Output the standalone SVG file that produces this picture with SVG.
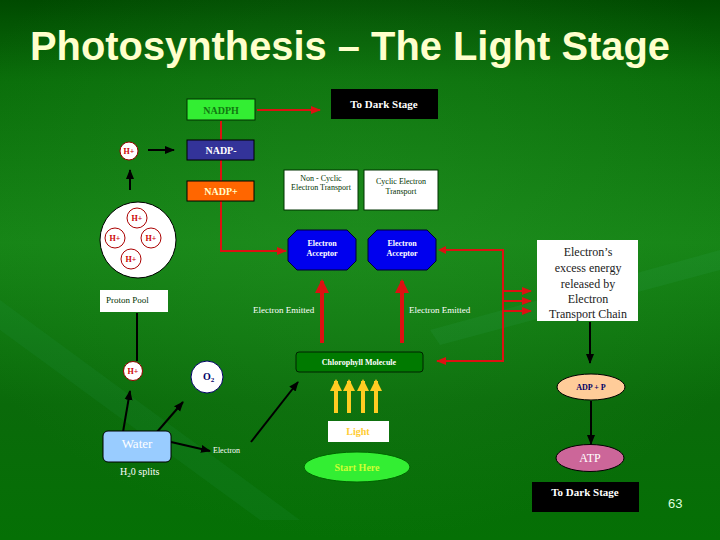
<svg xmlns="http://www.w3.org/2000/svg" width="720" height="540" viewBox="0 0 720 540">
<defs>
<linearGradient id="bg" x1="0" y1="0" x2="0" y2="1">
<stop offset="0" stop-color="#004a00"/>
<stop offset="0.15" stop-color="#0a6e0a"/>
<stop offset="0.45" stop-color="#168416"/>
<stop offset="0.75" stop-color="#0a6a0a"/>
<stop offset="1" stop-color="#057005"/>
</linearGradient>
<radialGradient id="glow" cx="0.5" cy="0.4" r="0.6">
<stop offset="0" stop-color="#2a9a2a" stop-opacity="0.35"/>
<stop offset="1" stop-color="#2a9a2a" stop-opacity="0"/>
</radialGradient>
<marker id="ar" markerUnits="userSpaceOnUse" markerWidth="10" markerHeight="10" refX="9" refY="5" orient="auto"><path d="M0,1 L10,5 L0,9 z" fill="#dd1111"/></marker>
<marker id="arb" markerUnits="userSpaceOnUse" markerWidth="14" markerHeight="14" refX="12" refY="7" orient="auto"><path d="M0,0 L14,7 L0,14 z" fill="#dd1111"/></marker>
<marker id="ab" markerUnits="userSpaceOnUse" markerWidth="10" markerHeight="10" refX="9" refY="5" orient="auto"><path d="M0,1 L10,5 L0,9 z" fill="#000"/></marker>
<marker id="ay" markerUnits="userSpaceOnUse" markerWidth="12" markerHeight="12" refX="10" refY="6" orient="auto"><path d="M0,0 L12,6 L0,12 z" fill="#ffcc22"/></marker>
<style>
.serif{font-family:"Liberation Serif","Times New Roman",serif}
.b{font-weight:bold}
.red{stroke:#dd1111;stroke-width:2;fill:none}
.redT{stroke:#dd1111;stroke-width:4;fill:none}
.blk{stroke:#000;stroke-width:2;fill:none}
.yel{stroke:#ffcc22;stroke-width:4;fill:none}
.hp{fill:#fff;stroke:#990000;stroke-width:1}
.hpt{font-family:"Liberation Serif",serif;font-size:8px;fill:#cc0000;font-weight:bold;text-anchor:middle}
.wt{fill:#fff;stroke:#003300;stroke-width:1}
.mid{text-anchor:middle}
</style>
</defs>
<rect width="720" height="540" fill="url(#bg)"/>
<rect width="720" height="540" fill="url(#glow)"/>
<path d="M0,330 L260,520 L300,520 L0,300 z" fill="#2a9a5a" opacity="0.12"/>
<path d="M430,330 L720,250 L720,270 L440,345 z" fill="#3aaa6a" opacity="0.12"/>

<text x="30" y="60" font-family="Liberation Sans, Arial, sans-serif" font-size="40" font-weight="bold" fill="#ffffcc" textLength="640" lengthAdjust="spacingAndGlyphs">Photosynthesis – The Light Stage</text>

<g id="connectors">
<line x1="257" y1="110" x2="320" y2="110" class="red" marker-end="url(#ar)"/>
<polyline points="221,121 221,251 286,251" class="red" marker-end="url(#ar)"/>
<polyline points="444,250 503,250 503,361 437,361" class="red" marker-end="url(#ar)"/>
<path d="M446,246 L438,250 L446,254 z" fill="#dd1111"/>
<line x1="503" y1="291" x2="531" y2="291" class="red" marker-end="url(#ar)"/>
<line x1="503" y1="301" x2="531" y2="301" class="red" marker-end="url(#ar)"/>
<line x1="503" y1="311" x2="531" y2="311" class="red" marker-end="url(#ar)"/>
<line x1="322" y1="343" x2="322" y2="281" class="redT" marker-end="url(#arb)"/>
<line x1="402" y1="343" x2="402" y2="281" class="redT" marker-end="url(#arb)"/>
<line x1="148" y1="150" x2="174" y2="150" class="blk" marker-end="url(#ab)"/>
<line x1="130" y1="190" x2="130" y2="170" class="blk" marker-end="url(#ab)"/>
<line x1="137" y1="313" x2="137" y2="361" class="blk"/>
<line x1="123" y1="432" x2="130" y2="391" class="blk" marker-end="url(#ab)"/>
<line x1="157" y1="432" x2="183" y2="402" class="blk" marker-end="url(#ab)"/>
<line x1="171" y1="442" x2="210" y2="451" class="blk" marker-end="url(#ab)"/>
<line x1="251" y1="442" x2="298" y2="382" class="blk" marker-end="url(#ab)"/>
<line x1="590" y1="322" x2="590" y2="363" class="blk" marker-end="url(#ab)"/>
<line x1="591" y1="401" x2="591" y2="444" class="blk" marker-end="url(#ab)"/>
<line x1="336" y1="413" x2="336" y2="381" class="yel" marker-end="url(#ay)"/>
<line x1="349" y1="413" x2="349" y2="381" class="yel" marker-end="url(#ay)"/>
<line x1="363" y1="413" x2="363" y2="381" class="yel" marker-end="url(#ay)"/>
<line x1="376" y1="413" x2="376" y2="381" class="yel" marker-end="url(#ay)"/>
</g>

<g id="nadph">
<rect x="187" y="99" width="68" height="21" fill="#33ee33" stroke="#003300"/>
<text x="221" y="113.5" class="serif b mid" font-size="10" fill="#117711">NADPH</text>
</g>
<g id="to-dark-top">
<rect x="331" y="89" width="107" height="30" fill="#000"/>
<text x="384" y="108" class="serif b mid" font-size="11" fill="#fff">To Dark Stage</text>
</g>
<g id="nadp-minus">
<rect x="187" y="140" width="67" height="20" fill="#333399" stroke="#000"/>
<text x="221" y="154" class="serif b mid" font-size="10" fill="#fff">NADP-</text>
</g>
<g id="nadp-plus">
<rect x="187" y="181" width="67" height="20" fill="#ff6600" stroke="#000"/>
<text x="221" y="195" class="serif b mid" font-size="10" fill="#ffffcc">NADP+</text>
</g>
<g id="h-top">
<circle cx="129" cy="151" r="9" class="hp"/>
<text x="129" y="154" class="hpt">H+</text>
</g>
<g id="proton-pool-circle">
<circle cx="138" cy="240" r="38" fill="#fff" stroke="#000"/>
<circle cx="137" cy="218" r="10" fill="none" stroke="#aa0000"/>
<text x="137" y="221" class="hpt">H+</text>
<circle cx="115" cy="238" r="10" fill="none" stroke="#aa0000"/>
<text x="115" y="241" class="hpt">H+</text>
<circle cx="151" cy="238" r="10" fill="none" stroke="#aa0000"/>
<text x="151" y="241" class="hpt">H+</text>
<circle cx="131" cy="259" r="10" fill="none" stroke="#aa0000"/>
<text x="131" y="262" class="hpt">H+</text>
</g>
<g id="proton-pool-label">
<rect x="100" y="290" width="68" height="22" fill="#fff"/>
<text x="106" y="303" class="serif" font-size="9" fill="#003300">Proton Pool</text>
</g>
<g id="non-cyclic">
<rect x="284" y="170" width="74" height="40" class="wt"/>
<text x="321" y="181" class="serif mid" font-size="8" fill="#003300">Non - Cyclic</text>
<text x="321" y="190" class="serif mid" font-size="8" fill="#003300">Electron Transport</text>
</g>
<g id="cyclic">
<rect x="364" y="170" width="74" height="40" class="wt"/>
<text x="401" y="184" class="serif mid" font-size="8" fill="#003300">Cyclic Electron</text>
<text x="401" y="194" class="serif mid" font-size="8" fill="#003300">Transport</text>
</g>
<g id="acceptor-1">
<polygon points="297,230 347,230 356,239 356,261 347,270 297,270 288,261 288,239" fill="#0000ee" stroke="#000033"/>
<text x="322" y="246" class="serif b mid" font-size="8" fill="#fff">Electron</text>
<text x="322" y="256" class="serif b mid" font-size="8" fill="#fff">Acceptor</text>
</g>
<g id="acceptor-2">
<polygon points="377,230 427,230 436,239 436,261 427,270 377,270 368,261 368,239" fill="#0000ee" stroke="#000033"/>
<text x="402" y="246" class="serif b mid" font-size="8" fill="#fff">Electron</text>
<text x="402" y="256" class="serif b mid" font-size="8" fill="#fff">Acceptor</text>
</g>
<g id="emitted-1"><text x="253" y="313" class="serif" font-size="9" fill="#fff">Electron Emitted</text></g>
<g id="emitted-2"><text x="409" y="313" class="serif" font-size="9" fill="#fff">Electron Emitted</text></g>
<g id="etc">
<rect x="537" y="240" width="101" height="81" fill="#fff"/>
<g class="serif mid" font-size="12" fill="#222">
<text x="588" y="256">Electron’s</text>
<text x="588" y="272">excess energy</text>
<text x="588" y="288">released by</text>
<text x="588" y="303">Electron</text>
<text x="588" y="318">Transport Chain</text>
</g>
</g>
<g id="adp">
<ellipse cx="591" cy="387" rx="34" ry="13" fill="#ffcc99" stroke="#000"/>
<text x="591" y="390" class="serif b mid" font-size="8" fill="#000066">ADP + P</text>
</g>
<g id="atp">
<ellipse cx="590" cy="458" rx="34" ry="13.5" fill="#cc6699" stroke="#000"/>
<text x="590" y="462" class="serif mid" font-size="12" fill="#fff">ATP</text>
</g>
<g id="to-dark-bottom">
<rect x="532" y="482" width="107" height="30" fill="#000"/>
<text x="585" y="496" class="serif b mid" font-size="11" fill="#fff">To Dark Stage</text>
</g>
<g id="chlorophyll">
<rect x="296" y="352" width="127" height="20" rx="3" fill="#007a00" stroke="#002200"/>
<text x="359" y="365" class="serif b mid" font-size="8" fill="#fff">Chlorophyll Molecule</text>
</g>
<g id="light">
<rect x="328" y="421" width="61" height="21" fill="#fff"/>
<text x="358" y="435" class="serif b mid" font-size="10" fill="#ffcc33">Light</text>
</g>
<g id="start">
<ellipse cx="357" cy="467" rx="53" ry="15" fill="#33ee33" stroke="#006600"/>
<text x="357" y="471" class="serif b mid" font-size="10" fill="#ccff33">Start Here</text>
</g>
<g id="water">
<rect x="103" y="431" width="68" height="31" rx="5" fill="#99ccff" stroke="#000"/>
<text x="137" y="448" class="serif mid" font-size="13" fill="#fff">Water</text>
</g>
<g id="h2o-label"><text x="120" y="475" class="serif" font-size="10" fill="#fff">H<tspan font-size="7" dy="2">2</tspan><tspan dy="-2">0 splits</tspan></text></g>
<g id="h-bottom">
<circle cx="133" cy="371" r="9.5" class="hp"/>
<text x="133" y="374" class="hpt">H+</text>
</g>
<g id="o2">
<circle cx="207" cy="377" r="16" fill="#fff" stroke="#000066"/>
<text x="203" y="380" class="serif b" font-size="10" fill="#000066">O<tspan font-size="7" dy="2">2</tspan></text>
</g>
<g id="electron-label"><text x="213" y="453" class="serif" font-size="8" fill="#fff">Electron</text></g>
<text x="668" y="508" font-family="Liberation Sans, sans-serif" font-size="13" fill="#ddffdd">63</text>
</svg>
